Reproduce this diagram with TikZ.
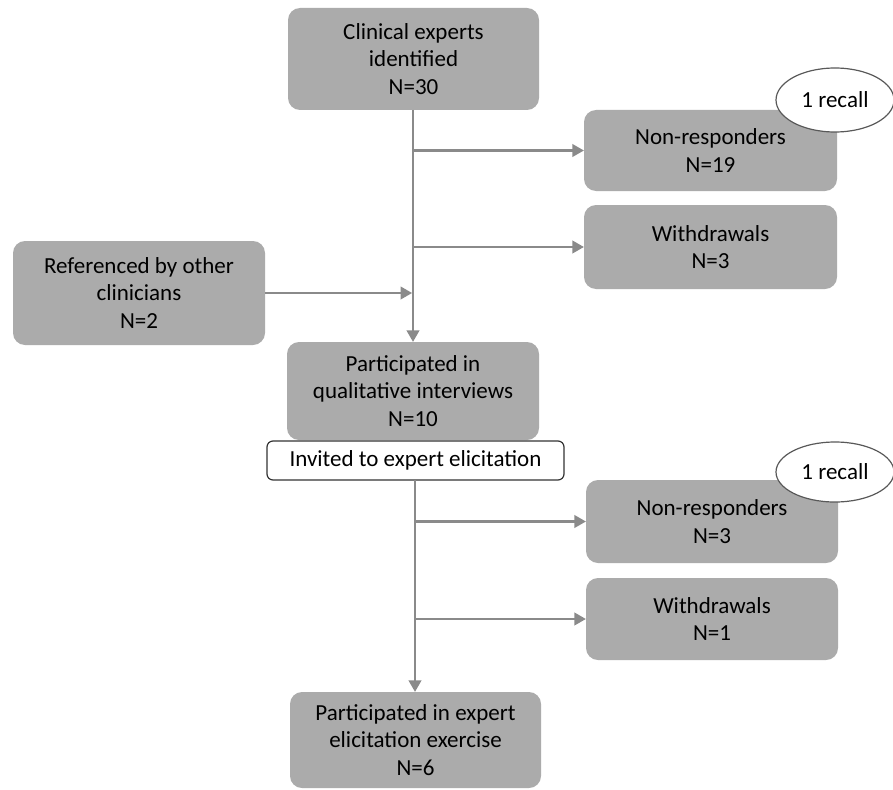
\documentclass[tikz,border=0pt]{standalone}
\usepackage{fontspec}
\setmainfont{Carlito}
\usetikzlibrary{arrows,shapes.geometric}
\definecolor{boxgray}{RGB}{171,171,171}
\definecolor{linegray}{RGB}{138,138,138}
\tikzstyle{box} = [fill=boxgray, rounded corners=12pt, align=center, inner sep=0pt, font=\fontsize{23}{27.5}\selectfont]
\tikzstyle{es} = [-triangle 60, draw=linegray, line width=2.2pt]
\tikzstyle{recall} = [ellipse, draw=black!65, fill=white, line width=1.2pt, inner sep=0pt, font=\fontsize{23}{27.5}\selectfont]

\begin{document}
\begin{tikzpicture}[x=1pt,y=-1pt]
			\useasboundingbox (0,0) rectangle (893,789);
			\node[box, minimum width=251pt, minimum height=102pt] (expert) at (413.5,59) {Clinical experts\\identified\\N=30};
			\node[box, minimum width=253pt, minimum height=81pt] (nonresp1) at (710.5,150.5) {Non-responders\\N=19};
			\node[box, minimum width=253pt, minimum height=84pt] (withdr1) at (710.5,247) {Withdrawals\\N=3};
			\node[box, minimum width=252pt, minimum height=104pt] (referenced) at (139,293) {Referenced by other\\clinicians\\N=2};
			\node[box, minimum width=252pt, minimum height=98pt] (qualit) at (413,391) {Participated in\\qualitative interviews\\N=10};
			\node[box, fill=white, draw=black!80, line width=1.2pt, rounded corners=6pt, minimum width=297pt, minimum height=39pt] (invited) at (415.5,460.5) {Invited to expert elicitation};
			\node[box, minimum width=252pt, minimum height=83pt] (nonresp2) at (712,521.5) {Non-responders\\N=3};
			\node[box, minimum width=252pt, minimum height=82pt] (withdr2) at (712,619) {Withdrawals\\N=1};
			\node[box, minimum width=251pt, minimum height=96pt] (elicit) at (415.5,740) {Participated in expert\\elicitation exercise\\N=6};
			\coordinate (top) at (413,110);
			\coordinate (bot) at (415,480);
			\draw[es] (top) -- (top |- qualit.north);
			\draw[es] (nonresp1.west -| top) -- (nonresp1.west);
			\draw[es] (withdr1.west -| top) -- (withdr1.west);
			\draw[es] (referenced.east) -- ([xshift=-1pt]referenced.east -| top);
			\draw[es] (bot) -- (bot |- elicit.north);
			\draw[es] (nonresp2.west -| bot) -- (nonresp2.west);
			\draw[es] (withdr2.west -| bot) -- (withdr2.west);
			\node[recall, minimum width=118pt, minimum height=64pt] (recall1) at (835,100) {1 recall};
			\node[recall, minimum width=118pt, minimum height=60pt] (recall2) at (835,472) {1 recall};
		\end{tikzpicture}
\end{document}
